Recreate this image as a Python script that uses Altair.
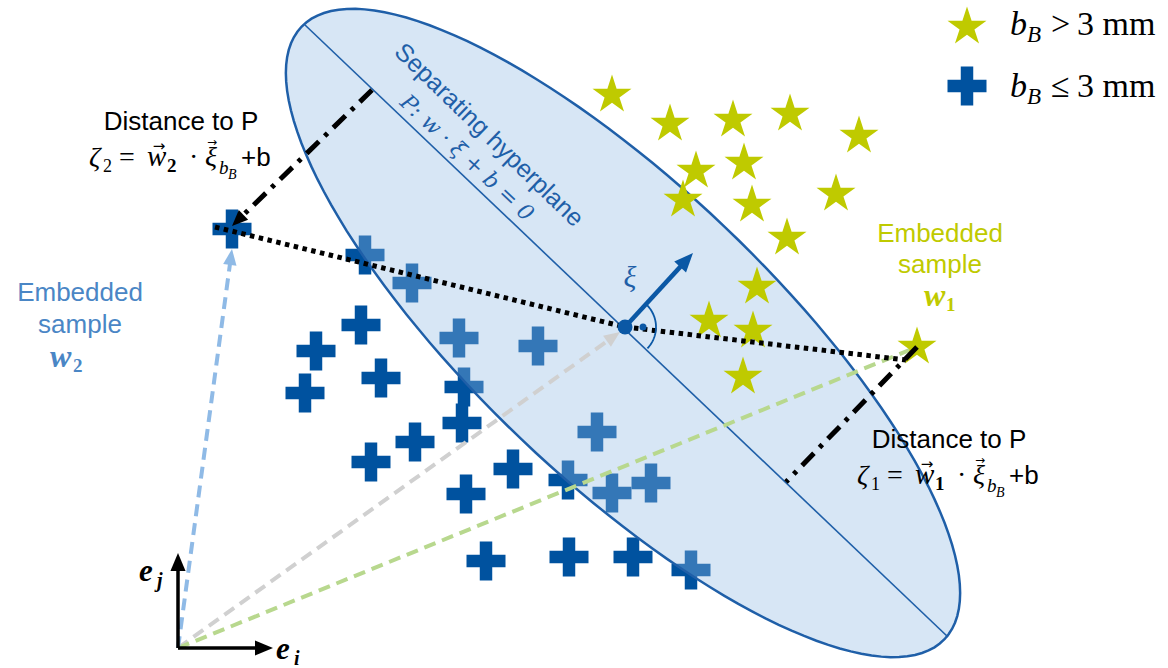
import numpy as np
import pandas as pd
import altair as alt

W, H = 1168, 668
SANS = "Liberation Sans"
SERIF = "Liberation Serif"
MATH = "DejaVu Serif"

DARK = "#00529F"        # b_B <= 3 mm samples
LIME = "#BFCA00"        # b_B > 3 mm samples
PLANE = "#1F5FA8"       # hyperplane outline / text
W2_BLUE = "#4A86C5"

# ---- data -----------------------------------------------------------------
# samples with b_B <= 3 mm
cross_x = [232, 365, 412, 361, 316, 305, 381, 459, 538, 464, 462, 415, 371,
           513, 466, 568, 597, 612, 651, 486, 569, 633, 691]
cross_y = [229, 255, 283, 325, 351, 393, 378, 338, 346, 387, 423, 442, 462,
           469, 494, 480, 432, 493, 483, 561, 557, 557, 570]

# samples with b_B > 3 mm (last one is the embedded sample w1)
star_x = [612, 670, 733, 790, 859, 696, 744, 683, 752, 836, 787, 757, 709,
          753, 743, 917]
star_y = [95, 124, 120, 114, 136, 171, 163, 200, 205, 194, 238, 287, 321,
          331, 377, 347]

# separating hyperplane P (drawn as an ellipse) and its in-plane axis
plane_center = (623, 333)
plane_semi_major = 444
plane_semi_minor = 147
plane_tilt = 43.6
plane_axis = (305, 25, 948, 637)

origin = (178, 648)
w2_tip = (232, 249)
xi_foot = (625, 327)
w1_tip = (912, 349)
normal_tip = (693, 253)
axis_j_tip = (178, 553)
axis_i_tip = (273, 648)

dotted_path = [(215, 227), (625, 327), (906, 360)]
dist2_seg = (372, 90, 232, 226)
dist1_seg = (917, 347, 786, 482)

legend_star = (967, 27)
legend_cross = (967, 86)

# ---- scales / helpers ---------------------------------------------------------
XS = alt.Scale(domain=[0, W], nice=False, zero=False)
YS = alt.Scale(domain=[0, H], nice=False, zero=False, reverse=True)


def enc_xy(chart):
    return chart.encode(x=alt.X("x:Q", scale=XS, axis=None),
                        y=alt.Y("y:Q", scale=YS, axis=None))


def points(px, py, **mark):
    df = pd.DataFrame({"x": px, "y": py})
    return enc_xy(alt.Chart(df).mark_point(**mark))


def rule(x0, y0, x1, y1, color, width, dash=None):
    kw = dict(color=color, strokeWidth=width)
    if dash:
        kw["strokeDash"] = dash
    df = pd.DataFrame({"x": [x0], "y": [y0], "x2": [x1], "y2": [y1]})
    return enc_xy(alt.Chart(df).mark_rule(**kw)).encode(x2="x2:Q", y2="y2:Q")


def path_from(pts):
    return "M" + " L".join(f"{a:.4f},{b:.4f}" for a, b in pts) + " Z"


# marker shapes in unit coordinates
k = np.arange(10)
star_r = np.where(k % 2 == 0, 1.0, 0.382)
star_a = np.deg2rad(-90 + 36 * k)
STAR = path_from(zip(star_r * np.cos(star_a), star_r * np.sin(star_a)))

t = 0.32
CROSS = path_from([(-1, -t), (-t, -t), (-t, -1), (t, -1), (t, -t), (1, -t),
                   (1, t), (t, t), (t, 1), (-t, 1), (-t, t), (-1, t)])

e_par = np.linspace(0, 2 * np.pi, 144, endpoint=False)
ratio = plane_semi_minor / plane_semi_major
ELLIPSE = path_from(zip(np.cos(e_par), ratio * np.sin(e_par)))

arc_par = np.deg2rad(np.linspace(43.4, 133.6, 30))
ARC = "M" + " L".join(f"{np.sin(a):.4f},{-np.cos(a):.4f}" for a in arc_par)

HEAD = "M0,0 L-0.42,1 L0.42,1 Z"


def arrow(x0, y0, x1, y1, color, width, head, dash=None, with_head=True):
    dx, dy = x1 - x0, y1 - y0
    n = float(np.hypot(dx, dy))
    ux, uy = dx / n, dy / n
    back = head * 0.6 if with_head else 0
    layers = [rule(x0, y0, x1 - ux * back, y1 - uy * back, color, width, dash)]
    if with_head:
        theta = float(np.degrees(np.arctan2(dx, -dy)) % 360)
        layers.append(points([x1], [y1], shape=HEAD, size=(2 * head) ** 2,
                             angle=theta, filled=True, color=color,
                             opacity=1, strokeWidth=0))
    return layers


def label(x, y, s, size, font=SANS, color="black", style="normal",
          weight="normal", align="left", baseline="alphabetic", angle=0):
    df = pd.DataFrame({"x": [x], "y": [y], "t": [s]})
    mk = dict(font=font, fontSize=size, fontStyle=style, fontWeight=weight,
              color=color, align=align, baseline=baseline)
    if angle:
        mk["angle"] = angle
    return enc_xy(alt.Chart(df).mark_text(**mk)).encode(text="t:N")


def distance_block(dx, dy, idx):
    """'Distance to P' caption with zeta_i = w_i . xi_bB + b underneath."""
    return [
        label(181 + dx, 130 + dy, "Distance to P", 26, align="center"),
        label(89 + dx, 166 + dy, "ζ", 28, SERIF, style="italic"),
        label(103 + dx, 172 + dy, idx, 18, SERIF),
        label(119 + dx, 166 + dy, "=", 28, SERIF),
        label(147 + dx, 166 + dy, "w", 29, SERIF, style="italic"),
        label(159 + dx, 151 + dy, "→", 15, "DejaVu Sans", align="center"),
        label(167 + dx, 172 + dy, idx, 19, SERIF, weight="bold"),
        label(189 + dx, 166 + dy, "·", 28, SERIF),
        label(205 + dx, 166 + dy, "ξ", 28, SERIF, style="italic"),
        label(212 + dx, 146 + dy, "→", 12, "DejaVu Sans", align="center"),
        label(219 + dx, 174 + dy, "b", 19, SERIF, style="italic"),
        label(228 + dx, 179 + dy, "B", 14, SERIF, style="italic"),
        label(241 + dx, 166 + dy, "+b", 26),
    ]


# ---- layers ------------------------------------------------------------------
layers = []

layers.append(points(cross_x, cross_y, shape=CROSS, size=39 ** 2, filled=True,
                     color=DARK, opacity=1, strokeWidth=0))

layers.append(points([plane_center[0]], [plane_center[1]], shape=ELLIPSE,
                     size=(2 * plane_semi_major) ** 2, angle=plane_tilt,
                     filled=True, fill="#90BAE3", fillOpacity=0.36,
                     stroke=PLANE, strokeWidth=2.5, strokeOpacity=1, opacity=1))
layers.append(rule(*plane_axis, PLANE, 1.6))

# embedding vectors from the origin
layers += arrow(*origin, 620, 332, "#D0D0D0", 4, 16, dash=[12, 7])
layers += arrow(*origin, *w1_tip, "#B8D88E", 4, 16, dash=[12, 7], with_head=False)
layers += arrow(*origin, *w2_tip, "#8FBAE6", 4, 16, dash=[12, 7])

layers.append(points(star_x, star_y, shape=STAR, size=41 ** 2, filled=True,
                     color=LIME, opacity=1, strokeWidth=0))

# connection through the foot point and the two distances to P
for (a, b), (c, d) in zip(dotted_path[:-1], dotted_path[1:]):
    layers.append(rule(a, b, c, d, "black", 5, [4.5, 4.5]))
layers += arrow(*dist2_seg, "black", 5, 16, dash=[17, 8, 4, 8])
layers.append(rule(*dist1_seg, "black", 5, [17, 8, 4, 8]))

# normal vector xi, foot point and right-angle marker
layers += arrow(*xi_foot, *normal_tip, "#0B58A5", 4.5, 19)
layers.append(points([xi_foot[0]], [xi_foot[1]], shape="circle", size=15 ** 2,
                     filled=True, color="#0B58A5", opacity=1, strokeWidth=0))
layers.append(points([643], [327], shape="circle", size=7 ** 2, filled=True,
                     color="#0B58A5", opacity=1, strokeWidth=0))
layers.append(points([xi_foot[0]], [xi_foot[1]], shape=ARC, size=62 ** 2,
                     filled=False, color="#0B58A5", strokeWidth=1.8, opacity=1))

# basis vectors
layers += arrow(*origin, *axis_j_tip, "black", 3.5, 18)
layers += arrow(*origin, *axis_i_tip, "black", 3.5, 18)

# legend
layers.append(points([legend_star[0]], [legend_star[1]], shape=STAR,
                     size=41 ** 2, filled=True, color=LIME, opacity=1,
                     strokeWidth=0))
layers.append(points([legend_cross[0]], [legend_cross[1]], shape=CROSS,
                     size=39 ** 2, filled=True, color=DARK, opacity=1,
                     strokeWidth=0))
for base, rel in [(35, ">"), (97, "≤")]:
    layers += [
        label(1010, base, "b", 34, SERIF, style="italic"),
        label(1027, base + 7, "B", 23, SERIF, style="italic"),
        label(1051, base, rel, 34, SERIF),
        label(1077, base, "3 mm", 34, SERIF),
    ]

# annotations
layers += distance_block(0, 0, "2")
layers += distance_block(768, 318, "1")

layers += [
    label(80, 301, "Embedded", 26, color=W2_BLUE, align="center"),
    label(80, 333, "sample", 26, color=W2_BLUE, align="center"),
    label(50, 367, "w", 32, SERIF, color=W2_BLUE, style="italic", weight="bold"),
    label(73, 372, "2", 19, SERIF, color=W2_BLUE, weight="bold"),
    label(940, 242, "Embedded", 26, color=LIME, align="center"),
    label(940, 273, "sample", 26, color=LIME, align="center"),
    label(924, 306, "w", 32, SERIF, color=LIME, style="italic", weight="bold"),
    label(946, 311, "1", 19, SERIF, color=LIME, weight="bold"),
    label(489, 135, "Separating hyperplane", 25, color=PLANE, align="center",
          baseline="middle", angle=44),
    label(467, 158, "P: w · ξ + b = 0", 22, MATH, color=PLANE, style="italic",
          align="center", baseline="middle", angle=43),
    label(630, 278, "ξ", 30, SERIF, color=PLANE, style="italic",
          align="center", baseline="middle"),
    label(139, 581, "e", 31, SERIF, style="italic", weight="bold"),
    label(157, 587, "j", 20, SERIF, style="italic", weight="bold"),
    label(276, 659, "e", 31, SERIF, style="italic", weight="bold"),
    label(294, 665, "i", 20, SERIF, style="italic", weight="bold"),
]

chart = alt.layer(*layers).properties(
    width=W, height=H, padding=0, autosize=alt.AutoSizeParams(type="none"),
    background="white",
).configure_view(stroke=None)

chart.save("out.html", embed_options={"renderer": "svg", "actions": False})
